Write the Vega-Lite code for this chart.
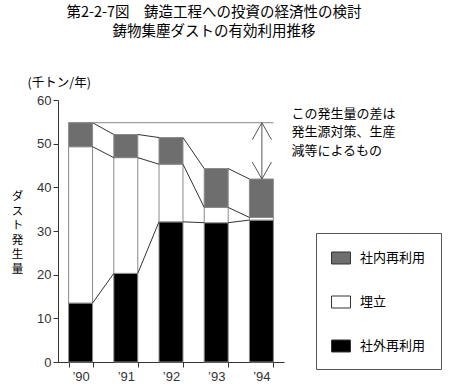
{
  "$schema": "https://vega.github.io/schema/vega-lite/v6.json",
  "width": 226,
  "height": 262,
  "autosize": {"type": "none"},
  "padding": {"left": 58, "top": 100, "right": 170, "bottom": 27},
  "background": "white",
  "config": {"view": {"stroke": null}, "font": "Noto Sans CJK JP"},
  "title": {
    "text": ["第2-2-7図　鋳造工程への投資の経済性の検討", "鋳物集塵ダストの有効利用推移"],
    "anchor": "middle",
    "frame": "group",
    "dx": 43,
    "fontSize": 14.5,
    "fontWeight": "normal",
    "lineHeight": 19,
    "color": "#000",
    "offset": 37
  },
  "datasets": {
    "dust": [
      {"year": "’90", "cat": "社外再利用", "value": 13.5},
      {"year": "’90", "cat": "埋立", "value": 35.8},
      {"year": "’90", "cat": "社内再利用", "value": 5.5},
      {"year": "’91", "cat": "社外再利用", "value": 20.3},
      {"year": "’91", "cat": "埋立", "value": 26.5},
      {"year": "’91", "cat": "社内再利用", "value": 5.3},
      {"year": "’92", "cat": "社外再利用", "value": 32.1},
      {"year": "’92", "cat": "埋立", "value": 13.2},
      {"year": "’92", "cat": "社内再利用", "value": 6.1},
      {"year": "’93", "cat": "社外再利用", "value": 31.9},
      {"year": "’93", "cat": "埋立", "value": 3.5},
      {"year": "’93", "cat": "社内再利用", "value": 8.9},
      {"year": "’94", "cat": "社外再利用", "value": 32.5},
      {"year": "’94", "cat": "埋立", "value": 0.6},
      {"year": "’94", "cat": "社内再利用", "value": 8.8}
    ],
    "gap": [
      {"from": "’90", "to": "’94", "top": 54.8, "bottom": 41.9, "note": ["この発生量の差は", "発生源対策、生産", "減等によるもの"]}
    ]
  },
  "layer": [
    {
      "data": {"name": "dust"},
      "transform": [{"calculate": "indexof(['社外再利用','埋立','社内再利用'], datum.cat)", "as": "k"}],
      "mark": {"type": "bar", "stroke": "#8a8a8a", "strokeWidth": 1},
      "encoding": {
        "x": {
          "field": "year", "type": "nominal",
          "scale": {"domain": ["’90", "’91", "’92", "’93", "’94"], "paddingInner": 0.47, "paddingOuter": 0.235},
          "axis": {"title": null, "tickBand": "extent", "tickSize": 5, "labelAngle": 0, "labelFontSize": 13, "labelFont": "Liberation Sans", "labelPadding": 3, "labelColor": "#333", "domainColor": "#333", "tickColor": "#333"}
        },
        "y": {
          "field": "value", "type": "quantitative", "stack": "zero",
          "scale": {"domain": [0, 60]},
          "axis": {
            "title": "(千トン/年)",
            "titleAngle": 0, "titleAlign": "left", "titleBaseline": "middle",
            "titleX": -31, "titleY": -18, "titleFontSize": 12.5, "titleFontWeight": "normal", "titleColor": "#000",
            "values": [0, 10, 20, 30, 40, 50, 60], "tickSize": 5, "grid": false,
            "labelFontSize": 13, "labelFont": "Liberation Sans", "labelColor": "#333", "labelPadding": 2,
            "domainColor": "#333", "tickColor": "#333"
          }
        },
        "color": {
          "field": "cat", "type": "nominal",
          "scale": {"domain": ["社内再利用", "埋立", "社外再利用"], "range": ["#6e6e6e", "#ffffff", "#000000"]},
          "legend": {
            "orient": "none", "legendX": 258, "legendY": 133, "title": null,
            "padding": 15, "strokeColor": "#555", "fillColor": "white", "rowPadding": 26,
            "symbolType": "M-1,-0.63H1V0.63H-1Z", "symbolSize": 361, "symbolStrokeColor": "#333", "symbolStrokeWidth": 1,
            "labelFontSize": 13, "labelOffset": 9, "labelColor": "#000", "labelFont": "Noto Sans CJK JP"
          }
        },
        "order": {"field": "k", "type": "quantitative"}
      }
    },
    {
      "data": {"name": "dust"},
      "transform": [
        {"calculate": "indexof(['社外再利用','埋立','社内再利用'], datum.cat)", "as": "k"},
        {"stack": "value", "groupby": ["year"], "sort": [{"field": "k", "order": "ascending"}], "as": ["lo", "hi"]},
        {"window": [{"op": "lead", "field": "hi", "as": "nhi"}, {"op": "lead", "field": "year", "as": "nyear"}], "groupby": ["cat"], "sort": [{"field": "year", "order": "ascending"}]},
        {"filter": "datum.nyear != null"}
      ],
      "mark": {"type": "rule", "color": "#333", "strokeWidth": 1},
      "encoding": {
        "x": {"field": "year", "type": "nominal", "bandPosition": 1, "title": null},
        "x2": {"field": "nyear", "bandPosition": 0, "title": null},
        "y": {"field": "hi", "type": "quantitative"},
        "y2": {"field": "nhi"}
      }
    },
    {
      "data": {"name": "gap"},
      "mark": {"type": "rule", "color": "#888", "strokeWidth": 1},
      "encoding": {
        "x": {"field": "from", "type": "nominal", "bandPosition": 0, "title": null},
        "x2": {"field": "to", "bandPosition": 1, "title": null},
        "y": {"field": "top", "type": "quantitative"}
      }
    },
    {
      "data": {"name": "gap"},
      "mark": {"type": "rule", "color": "#555", "strokeWidth": 1},
      "encoding": {
        "x": {"field": "to", "type": "nominal", "bandPosition": 0.52, "title": null},
        "y": {"field": "top", "type": "quantitative"},
        "y2": {"field": "bottom"}
      }
    },
    {
      "data": {"name": "gap"},
      "mark": {"type": "point", "shape": "M-2.4,4.25L0,0L2.4,4.25", "size": 64, "filled": false, "stroke": "#555", "strokeWidth": 1, "opacity": 1},
      "encoding": {
        "x": {"field": "to", "type": "nominal", "bandPosition": 0.52, "title": null},
        "y": {"field": "top", "type": "quantitative"}
      }
    },
    {
      "data": {"name": "gap"},
      "mark": {"type": "point", "shape": "M-2.4,-4.25L0,0L2.4,-4.25", "size": 64, "filled": false, "stroke": "#555", "strokeWidth": 1, "opacity": 1},
      "encoding": {
        "x": {"field": "to", "type": "nominal", "bandPosition": 0.52, "title": null},
        "y": {"field": "bottom", "type": "quantitative"}
      }
    },
    {
      "data": {"name": "gap"},
      "mark": {"type": "text", "align": "left", "baseline": "top", "dx": 18, "dy": -15, "fontSize": 13, "lineHeight": 18.5, "color": "#000", "font": "Noto Sans CJK JP"},
      "encoding": {
        "x": {"field": "to", "type": "nominal", "bandPosition": 1, "title": null},
        "y": {"field": "top", "type": "quantitative"},
        "text": {"field": "note"}
      }
    },
    {
      "data": {"values": [{"label": ["ダ", "ス", "ト", "発", "生", "量"], "mid": 30}]},
      "mark": {"type": "text", "align": "center", "baseline": "middle", "dx": -51, "dy": -34, "fontSize": 11.5, "lineHeight": 14.5, "color": "#000", "font": "Noto Sans CJK JP"},
      "encoding": {
        "x": {"datum": "’90", "bandPosition": 0},
        "y": {"field": "mid", "type": "quantitative"},
        "text": {"field": "label"}
      }
    }
  ]
}
